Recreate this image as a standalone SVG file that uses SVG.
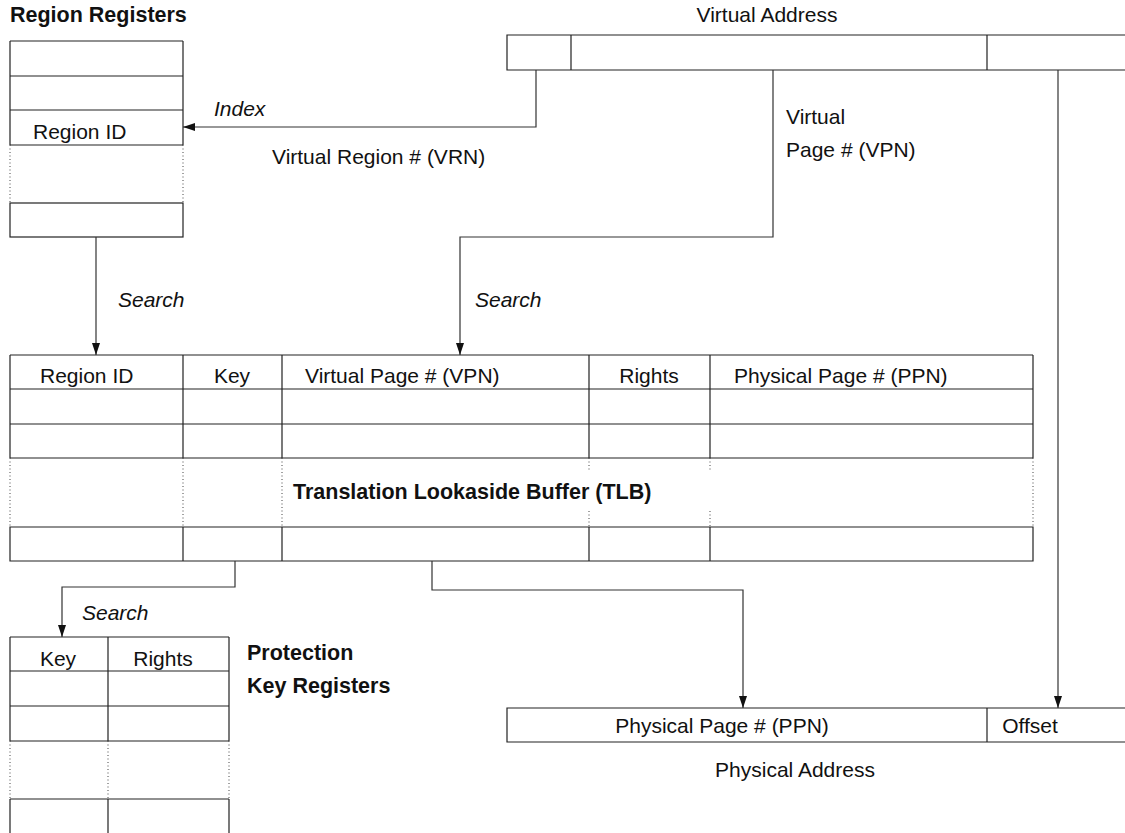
<svg xmlns="http://www.w3.org/2000/svg" width="1125" height="833" viewBox="0 0 1125 833">
  <defs>
    <style>
      .ln { stroke: #222; stroke-width: 1.2; fill: none; }
      .dot { stroke: #444; stroke-width: 1; stroke-dasharray: 1 2.5; fill: none; }
      .cn { stroke: #333; stroke-width: 1.2; fill: none; }
      text { font-family: "Liberation Sans", Arial, sans-serif; font-size: 21px; fill: #111; }
      .b { font-weight: bold; font-size: 21.5px; }
      .i { font-style: italic; }
      .m { text-anchor: middle; }
    </style>
    <marker id="arr" viewBox="0 0 12 8" refX="12" refY="4" markerWidth="12" markerHeight="8" markerUnits="userSpaceOnUse" orient="auto">
      <path d="M0,0 L12,4 L0,8 Z" fill="#111"/>
    </marker>
  </defs>
  <rect width="1125" height="833" fill="#fff"/>

  <!-- Region registers -->
  <g id="region-registers">
    <text class="b" x="10" y="22">Region Registers</text>
    <path class="ln" d="M10,41 H183 M10,76 H183 M10,110 H183 M10,145 H183 M10,41 V145 M183,41 V145"/>
    <path class="dot" d="M10,145 V203 M183,145 V203"/>
    <rect class="ln" x="10" y="203" width="173" height="34"/>
    <text x="33" y="139">Region ID</text>
  </g>

  <!-- Virtual address -->
  <g id="virtual-address">
    <text class="m" x="767" y="22">Virtual Address</text>
    <path class="ln" d="M1130,35 H507 V70 H1130 M571,35 V70 M987,35 V70"/>
  </g>

  <!-- Translation lookaside buffer -->
  <g id="tlb">
    <path class="ln" d="M10,355 H1033 M10,389 H1033 M10,424 H1033 M10,458 H1033 M10,355 V458 M1033,355 V458 M183,355 V458 M282,355 V458 M589,355 V458 M710,355 V458"/>
    <path class="dot" d="M10,458 V527 M183,458 V527 M282,458 V527 M1033,458 V527 M589,458 V470 M710,458 V470 M589,511 V527 M710,511 V527"/>
    <path class="ln" d="M10,527 H1033 V561 H10 Z M183,527 V561 M282,527 V561 M589,527 V561 M710,527 V561"/>
    <text x="40" y="383">Region ID</text>
    <text class="m" x="232" y="383">Key</text>
    <text x="305" y="383">Virtual Page # (VPN)</text>
    <text class="m" x="649" y="383">Rights</text>
    <text x="734" y="383">Physical Page # (PPN)</text>
    <text class="b" x="293" y="499">Translation Lookaside Buffer (TLB)</text>
  </g>

  <!-- Protection key registers -->
  <g id="protection-key-registers">
    <path class="ln" d="M10,637 H229 M10,671 H229 M10,706 H229 M10,741 H229 M10,637 V741 M108,637 V741 M229,637 V741"/>
    <path class="dot" d="M10,741 V799 M108,741 V799 M229,741 V799"/>
    <path class="ln" d="M10,799 H229 M10,799 V840 M108,799 V840 M229,799 V840"/>
    <text class="m" x="58" y="666">Key</text>
    <text class="m" x="163" y="666">Rights</text>
    <text class="b" x="247" y="660">Protection</text>
    <text class="b" x="247" y="693">Key Registers</text>
  </g>

  <!-- Physical address -->
  <g id="physical-address">
    <path class="ln" d="M1130,708 H507 V742 H1130 M987,708 V742"/>
    <text class="m" x="722" y="733">Physical Page # (PPN)</text>
    <text class="m" x="1030" y="733">Offset</text>
    <text class="m" x="795" y="777">Physical Address</text>
  </g>

  <!-- Connectors -->
  <g id="connectors">
    <path class="cn" d="M536,70 V127 H183" marker-end="url(#arr)"/>
    <path class="cn" d="M773,70 V237 H460 V355" marker-end="url(#arr)"/>
    <path class="cn" d="M1058,70 V708" marker-end="url(#arr)"/>
    <path class="cn" d="M96,237 V355" marker-end="url(#arr)"/>
    <path class="cn" d="M235,561 V587 H62 V637" marker-end="url(#arr)"/>
    <path class="cn" d="M432,561 V590 H743 V708" marker-end="url(#arr)"/>
    <text class="i" x="214" y="116">Index</text>
    <text x="272" y="164">Virtual Region # (VRN)</text>
    <text x="786" y="124">Virtual</text>
    <text x="786" y="157">Page # (VPN)</text>
    <text class="i" x="118" y="307">Search</text>
    <text class="i" x="475" y="307">Search</text>
    <text class="i" x="82" y="620">Search</text>
  </g>
</svg>
